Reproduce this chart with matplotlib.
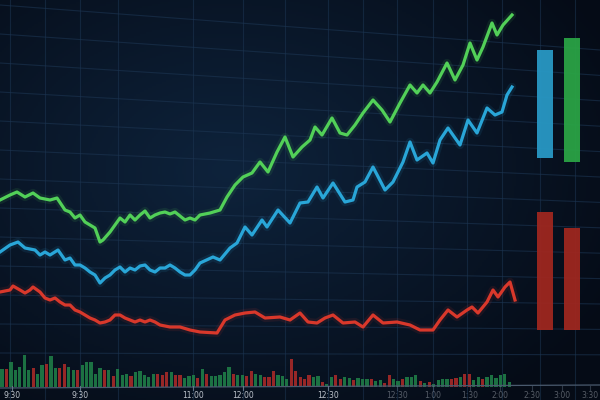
#Trading screen: three price lines, volume bars and side gauges
import numpy as np
import matplotlib.pyplot as plt
from matplotlib.colors import to_rgb

# price lines (x in screen px, y in screen px from top)
green_x = [0,10,17,25,33,40,50,57,65,70,75,80,85,90,95,100,103,110,115,120,125,130,135,140,145,150,155,160,165,170,
           175,180,185,190,195,200,210,220,227,235,243,252,260,268,277,285,293,302,310,315,322,332,340,347,355,363,373,382,390,400,
           410,417,423,430,437,447,455,463,470,477,483,492,497,503,512]
green_y = [200,195,192,197,193,198,200,198,210,212,218,215,222,225,228,242,240,232,225,218,222,215,220,215,211,218,215,213,212,214,
           212,216,220,218,220,215,213,210,197,185,177,173,162,172,152,137,157,147,140,127,135,118,133,135,125,113,100,110,122,103,
           85,93,85,93,82,63,80,65,43,60,47,23,35,25,15]

blue_x = [0,10,18,25,35,40,45,50,58,65,70,75,80,85,90,95,100,105,110,115,120,125,130,135,140,145,150,155,160,165,
          170,175,180,185,190,195,200,213,220,230,237,245,252,262,267,278,290,300,308,317,323,333,345,353,357,365,373,385,393,403,
          410,417,427,433,440,448,460,468,477,487,495,502,507,512]
blue_y = [252,245,242,248,250,255,252,255,250,260,258,265,265,268,272,275,283,278,275,270,267,272,268,270,266,265,270,272,268,268,
          265,268,272,275,275,270,263,257,260,248,243,227,235,220,227,210,223,203,202,187,198,183,202,200,187,182,167,190,182,162,
          142,160,153,163,140,128,145,120,133,108,115,112,95,87]

red_x = [0,10,13,20,25,30,33,40,45,50,55,60,65,70,75,80,85,90,95,100,105,110,115,120,125,130,135,140,145,150,
         155,160,170,180,190,200,217,225,235,245,255,265,280,290,300,308,317,325,333,343,355,363,373,383,397,410,420,433,440,448,
         457,467,472,478,487,493,498,505,510,515]
red_y = [292,290,286,290,293,290,287,292,298,300,298,302,305,305,310,312,315,318,320,323,322,320,315,315,318,320,322,320,322,320,
         322,325,327,327,330,332,333,320,315,313,312,318,317,320,313,322,323,318,315,323,322,327,315,323,322,325,330,330,320,310,
         317,310,307,313,302,290,297,287,282,300]

# volume bars (height in px) and colour code g/r
vol = [18,18,25,17,20,32,17,19,13,22,23,31,19,19,23,20,17,17,22,25,25,13,19,17,17,11,18,12,13,11,
       15,16,12,10,13,13,12,15,15,12,12,9,11,12,9,18,13,11,11,12,15,20,13,12,12,11,16,13,12,10,
       10,16,12,11,8,28,16,10,8,12,10,11,5,3,10,12,8,10,9,7,9,8,8,8,6,7,4,12,8,6,
       8,10,10,12,6,4,5,3,7,8,8,8,9,10,13,13,7,10,8,10,12,9,12,13,5]
vol_dir = ("grgggggrgg" "rggrrggrgg" "gggrgrgggr" "gggggrrrgr" "rgggrgrggg" "ggrggrrggr" "rrgg"
           "grrrrr" "ggrggrrggr" "gggrggrrgg" "rgggrgrggg" "grrgrrggrg" "ggggg")

# side gauges: top / bottom in px
gauge_top = [50, 38, 212, 228]
gauge_bot = [158, 162, 330, 330]
gauge_col = ['#2898c4', '#2aa345', '#9e271f', '#9e271f']

tick_x = [12, 80, 193, 243, 328, 397, 433, 470, 500, 532, 562, 590]
tick_lab = ['9:30', '9:30', '11:00', '12:00', '12:30', '12:30', '1:00', '1:30', '2:00', '2:30', '3:00', '3:30']

fig = plt.figure(figsize=(6, 4), dpi=100)
ax = fig.add_axes([0, 0, 1, 1])
ax.set_xlim(0, 600)
ax.set_ylim(400, 0)
ax.axis('off')

# background glow
xx, yy = np.meshgrid(np.linspace(0, 600, 300), np.linspace(0, 400, 200))
d = np.clip(np.sqrt(((xx - 230) / 430.0) ** 2 + ((yy - 170) / 300.0) ** 2), 0, 1)[..., None]
c0 = np.array(to_rgb('#0e233c'))
c1 = np.array(to_rgb('#050b16'))
ax.imshow(c0 * (1 - d) + c1 * d, extent=[0, 600, 400, 0], aspect='auto', zorder=0)

# grid (slanted rows for the screen perspective)
for i, y0 in enumerate(range(5, 380, 29)):
    ax.axline((0, y0), slope=0.075 - 0.006 * i, color='#1c3552', lw=0.8, alpha=0.6, zorder=1)
for gx in [10, 45, 80, 118, 193, 243, 285, 328, 363, 397, 433, 467, 502, 540, 575]:
    ax.axvline(gx, color='#1c3552', lw=0.8, alpha=0.55, zorder=1)

# lines with a soft glow
for xs, ys, col in [(green_x, green_y, '#52d058'), (blue_x, blue_y, '#29a6d8'), (red_x, red_y, '#d9382b')]:
    ax.plot(xs, ys, color=col, lw=6, alpha=0.1, zorder=2, solid_capstyle='round')
    ax.plot(xs, ys, color=col, lw=2.3, zorder=3, solid_joinstyle='round')

# volume
base = 387
vx = 2 + 4.45 * np.arange(len(vol))
vcol = ['#1f7d47' if c == 'g' else '#a82a28' for c in vol_dir]
ax.bar(vx, -np.array(vol), bottom=base, width=3.2, color=vcol, alpha=0.9, zorder=2)
ax.plot([0, 600], [base + 1, base - 2], color='#4a5a6e', lw=0.9, zorder=3)

# side gauges
gx_pos = [545, 572, 545, 572]
ax.bar(gx_pos, np.array(gauge_bot) - np.array(gauge_top), bottom=gauge_top,
       width=16, color=gauge_col, alpha=0.95, zorder=3)

for i, (tx, tl) in enumerate(zip(tick_x, tick_lab)):
    a = 0.9 if i < 5 else 0.4
    ax.text(tx, 396, tl, color='#d0d6de', fontsize=5.5, ha='center', va='center', alpha=a, zorder=4)
    ax.plot([tx, tx], [base - 1, base + 3], color='#6a7a8e', lw=0.8, alpha=a, zorder=4)

fig.savefig('out.png', dpi=100)
